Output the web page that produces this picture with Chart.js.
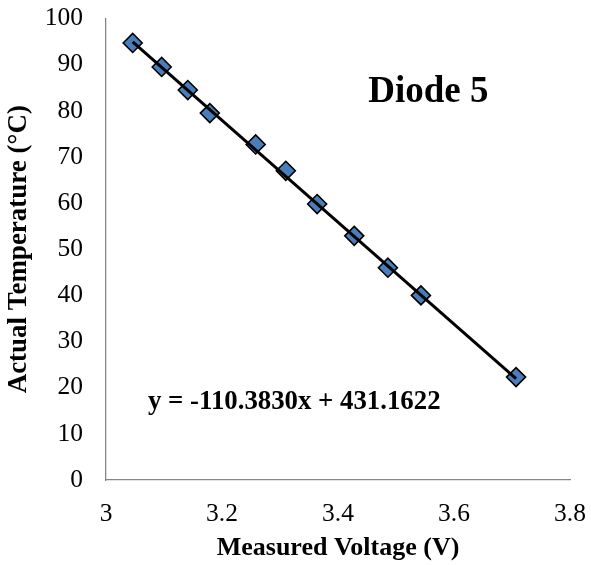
<!DOCTYPE html>
<html>
<head>
<meta charset="utf-8">
<script src="https://cdn.jsdelivr.net/npm/chart.js@4"></script>
<style>
  html, body { margin: 0; padding: 0; background: #fff; }
  #wrap { width: 591px; height: 565px; }
</style>
</head>
<body>
<div id="wrap"><canvas id="c" width="591" height="565"></canvas></div>
<script>
// Measured diode voltage (V) and reference temperature (°C)
const voltage = [3.046, 3.096, 3.141, 3.179, 3.258, 3.310, 3.364, 3.428, 3.486, 3.543, 3.707];
const temperature = [94.7, 89.5, 84.5, 79.5, 72.7, 67.0, 59.8, 52.9, 46.0, 40.0, 22.3];

// Linear fit coefficients shown on the chart
const fitSlope = -110.3830;
const fitIntercept = 431.1622;

const xTicks = [3, 3.2, 3.4, 3.6, 3.8];
const yTicks = [0, 10, 20, 30, 40, 50, 60, 70, 80, 90, 100];

const chartTitle = 'Diode 5';
const xTitle = 'Measured Voltage (V)';
const yTitle = 'Actual Temperature (\u00B0C)';
const fitLabel = 'y = ' + fitSlope.toFixed(4) + 'x + ' + fitIntercept.toFixed(4);

const points = voltage.map((v, i) => ({ x: v, y: temperature[i] }));
const xMin = Math.min(...voltage), xMax = Math.max(...voltage);
const fitLine = [xMin, xMax].map(v => ({ x: v, y: fitSlope * v + fitIntercept }));

const SERIF = '"Liberation Serif", "Times New Roman", serif';

// Text annotations placed inside the plot area
const annotations = {
  id: 'annotations',
  afterDatasetsDraw(chart) {
    const { ctx, chartArea: a } = chart;
    const w = a.right - a.left, h = a.bottom - a.top;
    ctx.save();
    ctx.fillStyle = '#000';
    ctx.textAlign = 'left';
    ctx.textBaseline = 'middle';
    ctx.font = 'bold 37px ' + SERIF;
    ctx.fillText(chartTitle, a.left + w * 0.565, a.top + h * 0.160);
    ctx.font = 'bold 26.8px ' + SERIF;
    ctx.fillText(fitLabel, a.left + w * 0.0905, a.top + h * 0.832);
    ctx.restore();
  }
};

// Keep the plot area fixed by ignoring tick-label overhang padding
function noOverhang(scale) {
  scale.paddingLeft = 0;
  scale.paddingRight = 0;
  scale.paddingTop = 0;
  scale.paddingBottom = 0;
}

new Chart(document.getElementById('c'), {
  type: 'scatter',
  data: {
    datasets: [
      {
        type: 'line',
        data: fitLine,
        borderColor: '#000',
        borderWidth: 3,
        pointRadius: 0,
        fill: false,
        order: 0
      },
      {
        data: points,
        pointStyle: 'rectRot',
        pointRadius: 9.5,
        pointHoverRadius: 9.5,
        backgroundColor: '#4a7ebb',
        borderColor: '#000',
        borderWidth: 1.6,
        order: 1
      }
    ]
  },
  options: {
    responsive: false,
    animation: false,
    events: [],
    layout: { padding: { left: 0, top: 18.5, right: 21, bottom: 0 } },
    plugins: { legend: { display: false }, tooltip: { enabled: false } },
    scales: {
      x: {
        type: 'linear',
        min: 3, max: 3.8,
        afterBuildTicks(scale) { scale.ticks = xTicks.map(v => ({ value: v })); },
        afterFit(scale) { scale.height = 85; noOverhang(scale); },
        grid: { display: false, drawTicks: false },
        border: { display: true, color: '#868686', width: 1.3 },
        ticks: {
          color: '#000',
          padding: 19,
          maxRotation: 0,
          font: { family: SERIF, size: 25.5 },
          callback: v => String(v)
        },
        title: {
          display: true,
          text: xTitle,
          color: '#000',
          padding: { top: 0, bottom: 1 },
          font: { family: SERIF, size: 26, weight: 'bold' }
        }
      },
      y: {
        type: 'linear',
        min: 0, max: 100,
        afterBuildTicks(scale) { scale.ticks = yTicks.map(v => ({ value: v })); },
        afterFit(scale) { scale.width = 106; noOverhang(scale); },
        grid: { display: false, drawTicks: false },
        border: { display: true, color: '#868686', width: 1.3 },
        ticks: {
          color: '#000',
          padding: 23,
          font: { family: SERIF, size: 25.5 },
          callback: v => String(v)
        },
        title: {
          display: true,
          text: yTitle,
          color: '#000',
          padding: { top: 3, bottom: 0 },
          font: { family: SERIF, size: 27, weight: 'bold' }
        }
      }
    }
  },
  plugins: [annotations]
});
</script>
</body>
</html>
